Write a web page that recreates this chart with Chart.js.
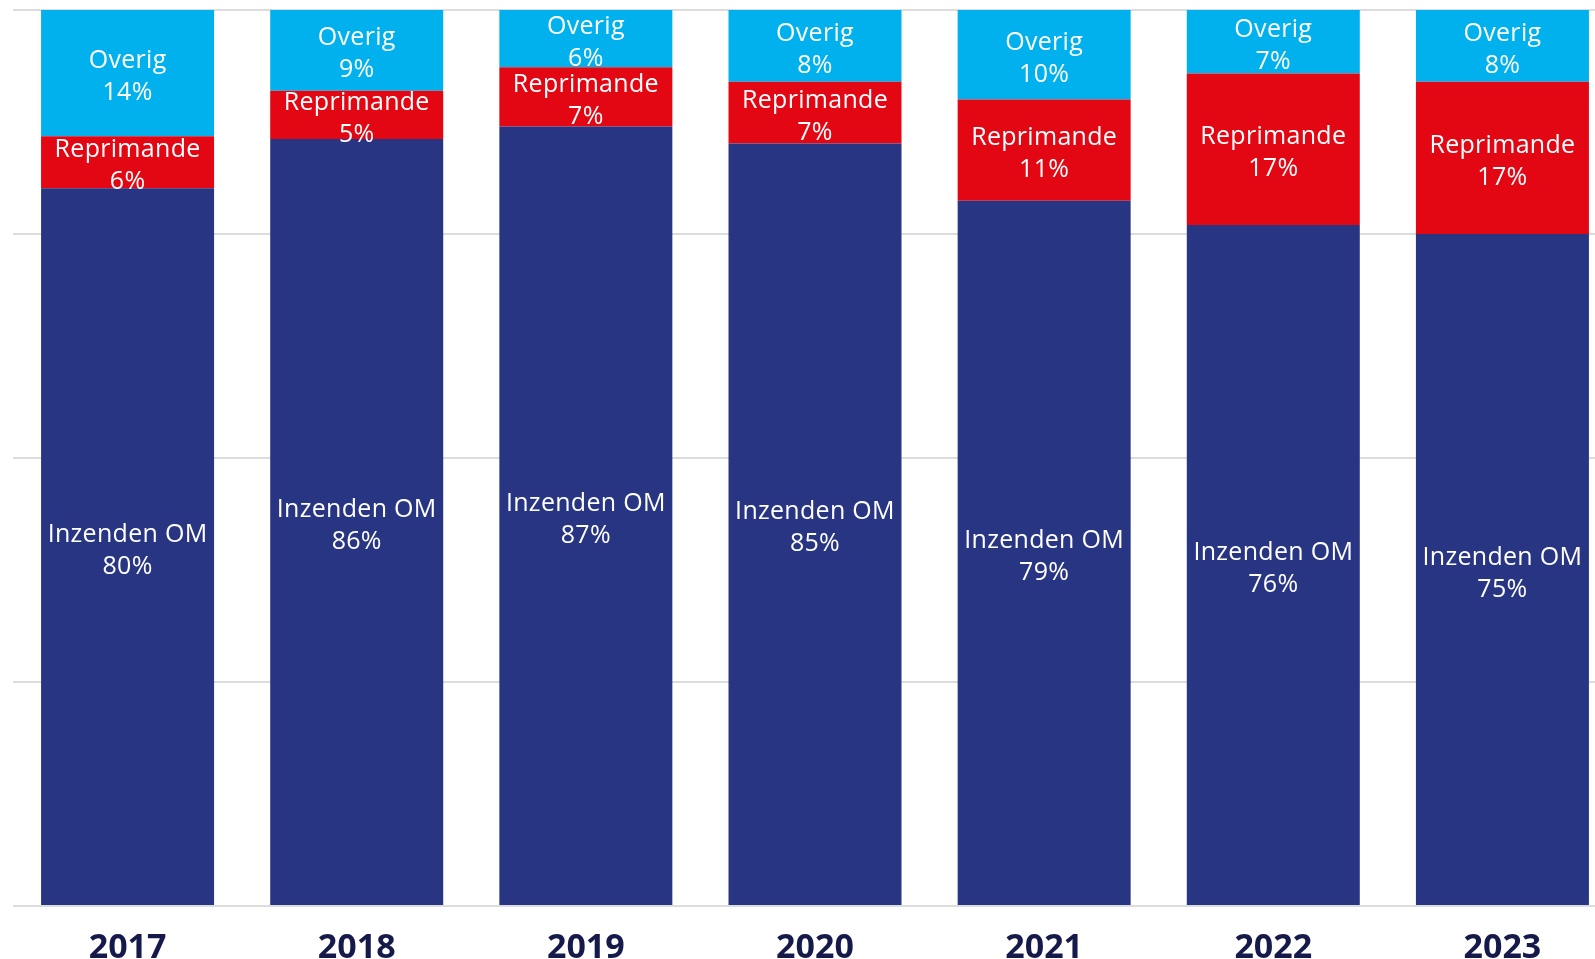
<!DOCTYPE html>
<html>
<head>
<meta charset="utf-8">
<script src="https://cdn.jsdelivr.net/npm/chart.js@4"></script>
<style>
  html, body { margin: 0; padding: 0; background: #fff; overflow: hidden; }
  #wrap { position: relative; width: 1620px; height: 959px; }
</style>
</head>
<body>
<div id="wrap"><canvas id="c"></canvas></div>
<script>
const years = ['2017', '2018', '2019', '2020', '2021', '2022', '2023'];
const inzendenOM = [80.1, 85.6, 87.0, 85.1, 78.7, 76.0, 75.0];
const reprimande = [5.8, 5.4, 6.6, 6.9, 11.3, 16.9, 17.0];
const overig = [14.1, 9.0, 6.4, 8.0, 10.0, 7.1, 8.0];
const yTicks = [0, 25, 50, 75, 100];

const segLabels = {
  id: 'segLabels',
  afterDatasetsDraw(chart) {
    const ctx = chart.ctx;
    ctx.save();
    ctx.fillStyle = '#ffffff';
    ctx.font = '25px "Open Sans"';
    if ('letterSpacing' in ctx) ctx.letterSpacing = '0.3px';
    ctx.textAlign = 'center';
    ctx.textBaseline = 'alphabetic';
    chart.data.datasets.forEach((ds, di) => {
      chart.getDatasetMeta(di).data.forEach((bar, i) => {
        const p = bar.getProps(['x', 'y', 'base'], true);
        const c = (p.y + p.base) / 2;
        ctx.fillText(ds.label, p.x, c - 5);
        ctx.fillText(Math.round(ds.data[i]) + '%', p.x, c + 27);
      });
    });
    ctx.restore();
  }
};

new Chart(document.getElementById('c'), {
  type: 'bar',
  data: {
    labels: years,
    datasets: [
      { label: 'Inzenden OM', data: inzendenOM, backgroundColor: '#283583' },
      { label: 'Reprimande', data: reprimande, backgroundColor: '#E30613' },
      { label: 'Overig', data: overig, backgroundColor: '#00B1EE' }
    ]
  },
  options: {
    responsive: true,
    maintainAspectRatio: false,
    animation: false,
    layout: { padding: { left: 13, right: 3, top: 10, bottom: 0 } },
    datasets: { bar: { categoryPercentage: 1.0, barPercentage: 0.755, borderWidth: 0 } },
    plugins: { legend: { display: false }, tooltip: { enabled: false } },
    scales: {
      x: {
        stacked: true,
        grid: { display: false, drawTicks: false },
        border: { display: false },
        ticks: {
          color: '#161a4a',
          font: { family: '"Open Sans"', size: 34, weight: 'bold' },
          padding: 22,
          maxRotation: 0
        },
        afterFit(axis) { axis.height = 53; }
      },
      y: {
        stacked: true,
        min: 0,
        max: 100,
        afterBuildTicks(axis) { axis.ticks = yTicks.map(v => ({ value: v })); },
        grid: { color: '#dcdcdc', lineWidth: 2, drawTicks: false },
        border: { display: false },
        ticks: { display: false },
        afterFit(axis) { axis.width = 0; }
      }
    }
  },
  plugins: [segLabels]
});
</script>
</body>
</html>
